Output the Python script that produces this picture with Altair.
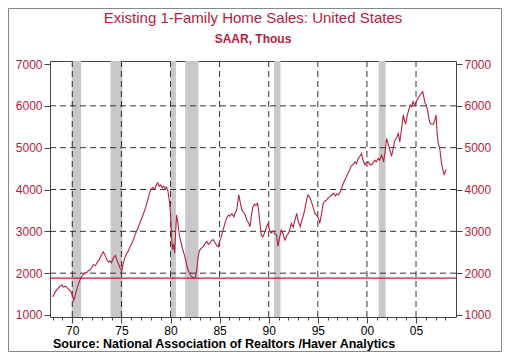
import altair as alt
import pandas as pd

# ---- data ----
years = [
    1968.00, 1968.20, 1968.40, 1968.60, 1968.80, 1968.95, 1969.10, 1969.30, 1969.50, 1969.70,
    1969.85, 1970.00, 1970.15, 1970.30, 1970.45, 1970.60, 1970.80, 1970.95, 1971.15, 1971.30,
    1971.50, 1971.65, 1971.80, 1972.00, 1972.15, 1972.35, 1972.55, 1972.75, 1972.95, 1973.15,
    1973.35, 1973.50, 1973.70, 1973.85, 1974.00, 1974.20, 1974.40, 1974.55, 1974.75, 1974.90,
    1975.05, 1975.20, 1975.40, 1975.55, 1975.70, 1975.90, 1976.05, 1976.25, 1976.45, 1976.65,
    1976.85, 1977.05, 1977.25, 1977.45, 1977.65, 1977.85, 1978.00, 1978.20, 1978.40, 1978.55,
    1978.70, 1978.85, 1979.00, 1979.15, 1979.30, 1979.45, 1979.60, 1979.75, 1979.90, 1980.00,
    1980.10, 1980.20, 1980.30, 1980.42, 1980.55, 1980.62, 1980.75, 1980.90, 1981.05, 1981.25,
    1981.45, 1981.60, 1981.75, 1981.95, 1982.10, 1982.25, 1982.40, 1982.55, 1982.67, 1982.80,
    1982.95, 1983.15, 1983.35, 1983.55, 1983.70, 1983.85, 1984.00, 1984.20, 1984.35, 1984.55,
    1984.70, 1984.85, 1985.00, 1985.15, 1985.35, 1985.55, 1985.70, 1985.90, 1986.05, 1986.25,
    1986.45, 1986.60, 1986.75, 1986.95, 1987.10, 1987.25, 1987.45, 1987.60, 1987.75, 1987.95,
    1988.10, 1988.25, 1988.40, 1988.55, 1988.70, 1988.85, 1988.95, 1989.10, 1989.25, 1989.40,
    1989.55, 1989.70, 1989.85, 1989.95, 1990.10, 1990.25, 1990.45, 1990.60, 1990.80, 1990.95,
    1991.10, 1991.30, 1991.45, 1991.65, 1991.85, 1992.00, 1992.15, 1992.30, 1992.50, 1992.70,
    1992.85, 1993.00, 1993.20, 1993.35, 1993.50, 1993.70, 1993.85, 1994.00, 1994.20, 1994.40,
    1994.55, 1994.70, 1994.90, 1995.05, 1995.20, 1995.40, 1995.55, 1995.75, 1995.90, 1996.05,
    1996.25, 1996.45, 1996.60, 1996.80, 1996.95, 1997.10, 1997.30, 1997.45, 1997.60, 1997.75,
    1997.90, 1998.05, 1998.25, 1998.40, 1998.60, 1998.80, 1998.95, 1999.10, 1999.30, 1999.45,
    1999.60, 1999.80, 1999.95, 2000.15, 2000.30, 2000.50, 2000.65, 2000.80, 2000.95, 2001.15,
    2001.30, 2001.50, 2001.60, 2001.70, 2001.85, 2002.00, 2002.15, 2002.35, 2002.50, 2002.65,
    2002.85, 2003.05, 2003.20, 2003.35, 2003.50, 2003.70, 2003.85, 2003.95, 2004.10, 2004.25,
    2004.40, 2004.55, 2004.70, 2004.85, 2005.00, 2005.10, 2005.25, 2005.40, 2005.55, 2005.68,
    2005.80, 2005.92, 2006.05, 2006.20, 2006.35, 2006.45, 2006.60, 2006.76, 2006.90, 2007.04,
    2007.15, 2007.27, 2007.44, 2007.55, 2007.70, 2007.86, 2007.95, 2008.05,
]
sales = [
    1430, 1520, 1600, 1650, 1700, 1720, 1670, 1690, 1640, 1600,
    1560, 1480, 1350, 1480, 1600, 1720, 1850, 1920, 1980, 2000,
    2020, 2060, 2080, 2140, 2200, 2180, 2260, 2330, 2430, 2510,
    2420, 2330, 2260, 2290, 2250, 2380, 2420, 2300, 2200, 2100,
    2060, 2250, 2400, 2470, 2530, 2640, 2700, 2820, 2950, 3060,
    3180, 3300, 3420, 3560, 3720, 3900, 4000, 4050, 4010, 4100,
    4160, 4070, 4110, 4040, 4080, 4020, 4060, 3950, 3700, 3430,
    2900, 2560, 2700, 2480, 3100, 3390, 3200, 2900, 2750, 2560,
    2400, 2250, 2100, 2000, 1930, 1900, 1880, 1910, 2080, 2380,
    2540, 2600, 2640, 2720, 2760, 2690, 2720, 2790, 2800, 2720,
    2660, 2630, 2760, 2850, 3030, 3200, 3310, 3390, 3360, 3420,
    3350, 3450, 3510, 3870, 3700, 3520, 3450, 3400, 3270, 3200,
    3110, 3400, 3590, 3650, 3620, 3670, 3550, 3200, 2900, 2870,
    2950, 3050, 3150, 3190, 3000, 2960, 3010, 2950, 2910, 2640,
    2850, 3030, 2950, 2790, 2900, 2950, 3050, 3190, 3100, 3300,
    3430, 3250, 3110, 3250, 3350, 3550, 3750, 3870, 3800, 3670,
    3550, 3430, 3380, 3310, 3190, 3450, 3670, 3720, 3750, 3800,
    3830, 3880, 3910, 3850, 3900, 3870, 3950, 4050, 4150, 4230,
    4300, 4380, 4480, 4560, 4600, 4660, 4620, 4740, 4800, 4860,
    4700, 4590, 4640, 4660, 4600, 4590, 4650, 4700, 4660, 4740,
    4700, 4820, 4750, 4660, 4900, 5220, 5100, 4940, 4790, 4950,
    5180, 5250, 5340, 5140, 5400, 5780, 5620, 5580, 5760, 5900,
    6020, 5980, 6100, 6020, 6080, 6140, 6200, 6260, 6300, 6340,
    6200, 6060, 6020, 5850, 5650, 5580, 5560, 5560, 5650, 5780,
    5350, 5100, 4940, 4700, 4500, 4360, 4400, 4480,
]
recession_start = [1969.95, 1973.9, 1980.0, 1981.5, 1990.55, 2001.2]
recession_end = [1970.9, 1975.1, 1980.55, 1982.85, 1991.2, 2001.9]
reference_level = [1880]
grid_years = [1970, 1975, 1980, 1985, 1990, 1995, 2000, 2005]
grid_values = [2000, 3000, 4000, 5000, 6000]
y_ticks = [1000, 2000, 3000, 4000, 5000, 6000, 7000]
x_ticks = list(range(1968, 2009))

title_text = "Existing 1-Family Home Sales: United States"
subtitle_text = "SAAR, Thous"
source_text = "Source:  National Association of Realtors /Haver Analytics"

RED = "#b5213e"
FONT = "Liberation Sans"
W, H = 406, 256

xscale = alt.Scale(domain=[1967.73, 2009.07], nice=False, zero=False)
yscale = alt.Scale(domain=[952, 7072], nice=False, zero=False)

x_axis = alt.Axis(
    values=x_ticks, title=None, grid=False, domain=False, format="d",
    labelExpr="datum.value % 5 === 0 ? slice(toString(datum.value), 2) : ''",
    labelOverlap=False, labelFlush=False, labelFontSize=12, labelFont=FONT,
    labelColor="#000000", tickColor="#444444", labelPadding=2,
    tickSize={"condition": {"test": "datum.value % 5 === 0", "value": 6}, "value": 3},
)


def y_axis(orient):
    return alt.Axis(
        orient=orient, values=y_ticks, title=None, grid=False, domain=False, format="d",
        labelColor=RED, labelFontSize=12, labelFont=FONT, tickSize=6,
        tickColor="#444444", labelPadding=2, labelOverlap=False,
    )


df = pd.DataFrame({"year": years, "sales": sales})
rec = pd.DataFrame({"start": recession_start, "end": recession_end})
vg = pd.DataFrame({"gy": grid_years})
hg = pd.DataFrame({"gv": grid_values})
ref = pd.DataFrame({"lvl": reference_level})
one = pd.DataFrame({"a": [0]})

shades = alt.Chart(rec).mark_rect(color="#c8c8c8").encode(
    x=alt.X("start:Q", scale=xscale, axis=x_axis),
    x2="end:Q",
    y=alt.value(0),
    y2=alt.value(H),
)

vgrid = alt.Chart(vg).mark_rule(color="#333333", strokeDash=[6, 4], strokeWidth=1).encode(
    x=alt.X("gy:Q", scale=xscale, axis=x_axis),
    y=alt.value(0),
    y2=alt.value(H),
)

hgrid = alt.Chart(hg).mark_rule(color="#333333", strokeDash=[6, 4], strokeWidth=1).encode(
    y=alt.Y("gv:Q", scale=yscale, axis=None),
    x=alt.value(0),
    x2=alt.value(W),
)

refline = alt.Chart(ref).mark_rule(color=RED, strokeWidth=1.2).encode(
    y=alt.Y("lvl:Q", scale=yscale, axis=y_axis("right")),
    x=alt.value(0),
    x2=alt.value(W),
)

line = alt.Chart(df).mark_line(color=RED, strokeWidth=1.1).encode(
    x=alt.X("year:Q", scale=xscale, axis=x_axis),
    y=alt.Y("sales:Q", scale=yscale, axis=y_axis("left")),
)

title = alt.Chart(pd.DataFrame({"t": [title_text]})).mark_text(
    font=FONT, fontSize=15, color=RED, align="center", baseline="alphabetic"
).encode(text="t:N", x=alt.value(W / 2), y=alt.value(-38))

subtitle = alt.Chart(pd.DataFrame({"t": [subtitle_text]})).mark_text(
    font=FONT, fontSize=12, fontWeight="bold", color=RED, align="center", baseline="alphabetic"
).encode(text="t:N", x=alt.value(W / 2), y=alt.value(-18))

source = alt.Chart(pd.DataFrame({"t": [source_text]})).mark_text(
    font=FONT, fontSize=12.5, fontWeight="bold", color="#000000", align="left", baseline="alphabetic"
).encode(text="t:N", x=alt.value(3), y=alt.value(287))

border = alt.Chart(one).mark_rect(filled=False, stroke="#888888", strokeWidth=1).encode(
    x=alt.value(-41.5), x2=alt.value(451.5), y=alt.value(-52.5), y2=alt.value(290.5)
)

chart = (
    alt.layer(shades, vgrid, hgrid, refline, line, title, subtitle, source, border)
    .resolve_scale(y="shared", x="shared")
    .resolve_axis(y="independent")
    .properties(
        width=W,
        height=H,
        autosize=alt.AutoSizeParams(type="none"),
        padding={"left": 42, "top": 53, "right": 46, "bottom": 35},
        background="white",
    )
    .configure_view(stroke="#444444", strokeWidth=1)
)

chart.save("out.html", embed_options={"renderer": "svg", "actions": False})
